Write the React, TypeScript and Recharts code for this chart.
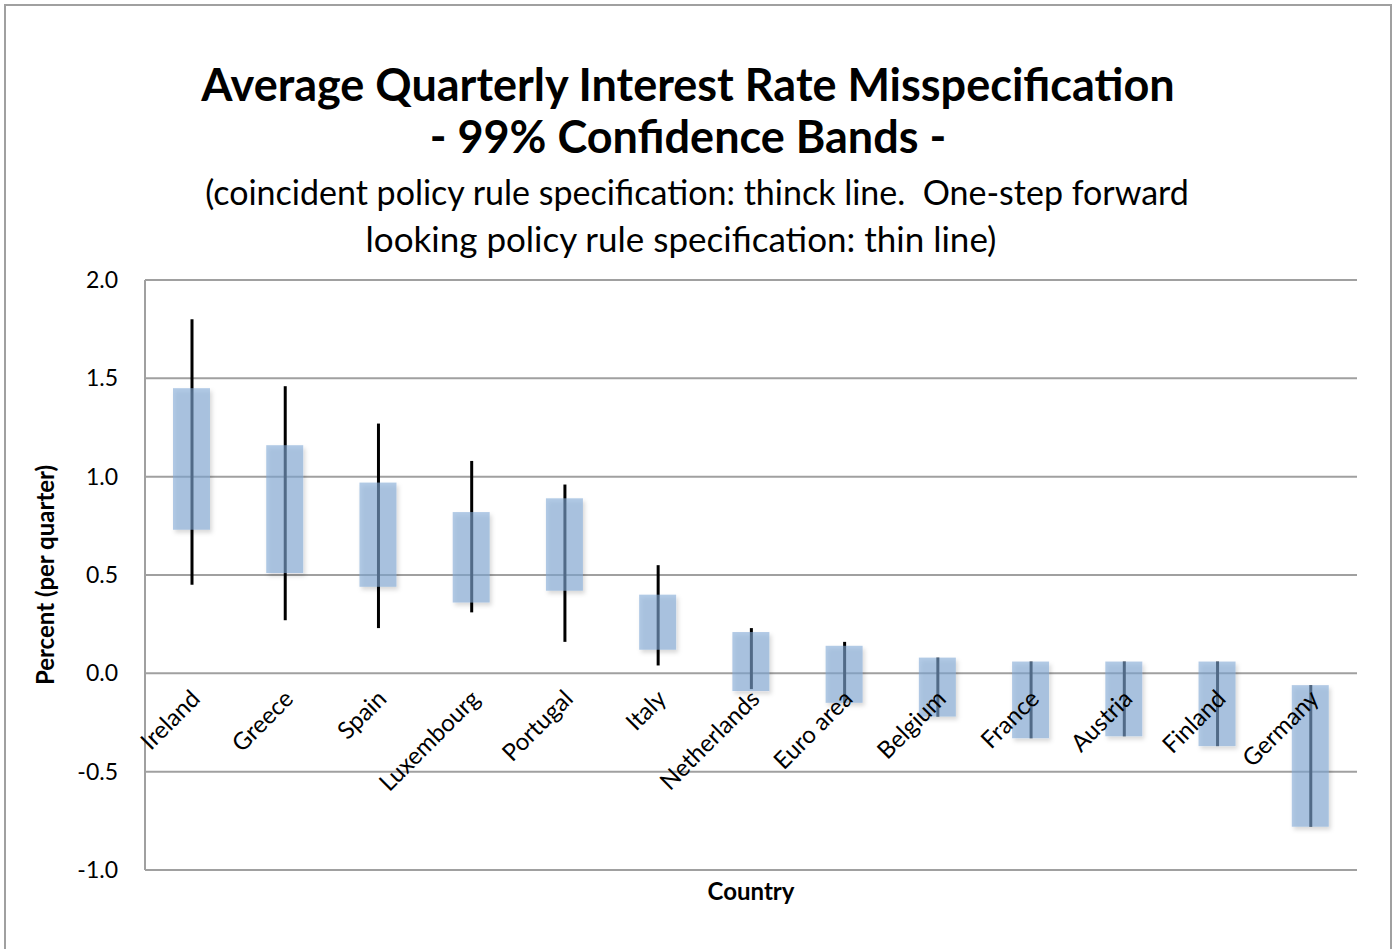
import { ComposedChart, Bar, Scatter, XAxis, YAxis, CartesianGrid, Label } from "recharts";

const W = 1397;
const H = 949;
const FONT = "Lato, 'Open Sans', sans-serif";

const countries = [
  "Ireland", "Greece", "Spain", "Luxembourg", "Portugal", "Italy", "Netherlands",
  "Euro area", "Belgium", "France", "Austria", "Finland", "Germany",
];
// coincident policy rule: thick band
const coincidentLow = [0.73, 0.51, 0.44, 0.36, 0.42, 0.12, -0.09, -0.15, -0.22, -0.33, -0.32, -0.37, -0.78];
const coincidentHigh = [1.45, 1.16, 0.97, 0.82, 0.89, 0.40, 0.21, 0.14, 0.08, 0.06, 0.06, 0.06, -0.06];
// one-step forward looking rule: thin line
const forwardLow = [0.45, 0.27, 0.23, 0.31, 0.16, 0.04, -0.08, -0.15, -0.22, -0.33, -0.32, -0.37, -0.78];
const forwardHigh = [1.80, 1.46, 1.27, 1.08, 0.96, 0.55, 0.23, 0.16, 0.08, 0.06, 0.06, 0.06, -0.06];
const yTicks = [-1, -0.5, 0, 0.5, 1, 1.5, 2];

const data = countries.map((c, i) => ({
  country: c,
  band: [coincidentLow[i], coincidentHigh[i]],
  fwd: [forwardLow[i], forwardHigh[i]],
  axis: 0,
}));

function ThinLine(props: any) {
  const { x, y, width, height } = props;
  const cx = x + width / 2;
  const top = Math.min(y, y + height);
  return <line x1={cx} x2={cx} y1={top} y2={top + Math.abs(height)} stroke="#000" strokeWidth={3} />;
}

function Band(props: any) {
  const { x, y, width, height } = props;
  const top = Math.min(y, y + height);
  return (
    <rect x={x} y={top} width={width} height={Math.abs(height)}
      fill="#80a8d5" fillOpacity={0.6} filter="url(#bandShadow)" />
  );
}

function CountryTick(props: any) {
  const { cx, cy, payload } = props;
  const x = cx + 10;
  const y = cy + 27;
  return (
    <text x={x} y={y} textAnchor="end" transform={`rotate(-45 ${x} ${y})`}
      fontSize={24} fontFamily={FONT} fill="#000">
      {payload.country}
    </text>
  );
}

export default function App() {
  return (
    <div style={{ position: "absolute", left: 0, top: 0, width: W, height: H, background: "#fff", overflow: "hidden" }}>
      <div style={{ position: "absolute", left: 4, top: 4, width: 1384, height: 960, border: "2px solid #a0a0a0" }} />
      <svg width={W} height={H} style={{ position: "absolute", left: 0, top: 0 }}>
        <g fontFamily={FONT} textAnchor="middle" fill="#000">
          <text x={688} y={101} fontSize={45} fontWeight="bold">Average Quarterly Interest Rate Misspecification</text>
          <text x={688} y={153} fontSize={45} fontWeight="bold">- 99% Confidence Bands -</text>
          <text x={697} y={205} fontSize={34} style={{ whiteSpace: "pre" }}>
            (coincident policy rule specification: thinck line.  One-step forward
          </text>
          <text x={681} y={252} fontSize={35}>looking policy rule specification: thin line)</text>
          <text x={751} y={900} fontSize={24} fontWeight="bold">Country</text>
        </g>
      </svg>
      <div style={{ position: "absolute", left: 0, top: 0 }}>
        <ComposedChart width={W} height={H} data={data} margin={{ top: 280, right: 40, bottom: 0, left: 0 }}>
          <defs>
            <filter id="bandShadow" x="-20%" y="-20%" width="150%" height="150%">
              <feDropShadow dx="2" dy="3" stdDeviation="2" floodColor="#000" floodOpacity="0.25" />
            </filter>
          </defs>
          <CartesianGrid vertical={false} stroke="#a0a0a0" strokeWidth={2} xAxisId="main" />
          <XAxis xAxisId="main" dataKey="country" tick={false} tickLine={false} axisLine={false} height={79} />
          <XAxis xAxisId="fwd" dataKey="country" hide />
          <YAxis domain={[-1, 2]} ticks={yTicks} width={145} tickLine={false} tickSize={0} tickMargin={27}
            tickFormatter={(v: number) => v.toFixed(1)}
            axisLine={{ stroke: "#a0a0a0", strokeWidth: 2 }}
            tick={{ fontSize: 23, fill: "#000", fontFamily: FONT }}>
            <Label
              content={(p: any) => {
                const vb = p.viewBox;
                const x = 54;
                const y = vb.y + vb.height / 2;
                return (
                  <text x={x} y={y} textAnchor="middle" transform={`rotate(-90 ${x} ${y})`} fontSize={24}
                    fontWeight="bold" fontFamily={FONT} fill="#000">Percent (per quarter)</text>
                );
              }}
            />
          </YAxis>
          <Bar xAxisId="fwd" dataKey="fwd" barSize={10} shape={(p: any) => <ThinLine {...p} />} isAnimationActive={false} />
          <Bar xAxisId="main" dataKey="band" barSize={37} shape={(p: any) => <Band {...p} />} isAnimationActive={false} />
          <Scatter xAxisId="main" dataKey="axis" shape={(p: any) => <CountryTick {...p} />} isAnimationActive={false} />
        </ComposedChart>
      </div>
    </div>
  );
}
